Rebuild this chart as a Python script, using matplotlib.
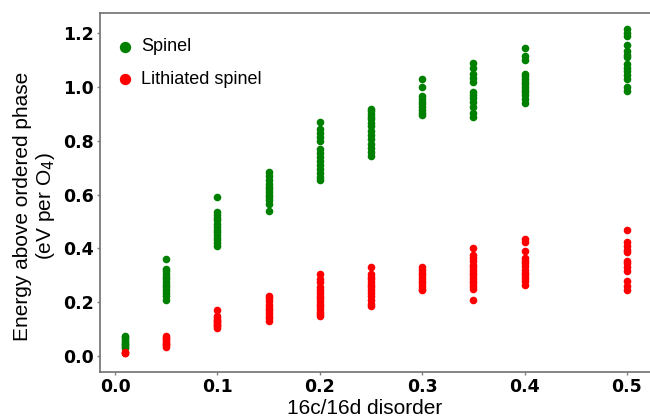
'''
Energy above ordered phase vs 16c/16d disorder
'''

#%%
import numpy as np
import matplotlib.pyplot as plt

disorder = [0.01, 0.05, 0.1, 0.15, 0.2, 0.25, 0.3, 0.35, 0.4, 0.5]

# energies above ordered phase (eV per O4), one list per disorder level
spinel = [
    [0.075, 0.07, 0.062, 0.055, 0.05, 0.045, 0.04, 0.035, 0.03],
    [0.36, 0.325, 0.315, 0.305, 0.295, 0.285, 0.275, 0.265, 0.255, 0.245, 0.235, 0.225, 0.21],
    [0.59, 0.535, 0.525, 0.515, 0.505, 0.49, 0.48, 0.47, 0.46, 0.45, 0.44, 0.43, 0.42, 0.41],
    [0.685, 0.67, 0.655, 0.64, 0.63, 0.62, 0.61, 0.6, 0.59, 0.58, 0.565, 0.54],
    [0.87, 0.845, 0.83, 0.815, 0.8, 0.77, 0.755, 0.74, 0.725, 0.71, 0.695, 0.68, 0.665, 0.655],
    [0.92, 0.91, 0.9, 0.89, 0.88, 0.865, 0.855, 0.835, 0.82, 0.805, 0.79, 0.775, 0.76, 0.745],
    [1.03, 1.0, 0.965, 0.955, 0.945, 0.935, 0.925, 0.915, 0.905, 0.895],
    [1.09, 1.07, 1.05, 1.035, 1.02, 0.98, 0.97, 0.96, 0.945, 0.925, 0.905, 0.89],
    [1.145, 1.115, 1.1, 1.05, 1.04, 1.03, 1.02, 1.01, 1.0, 0.99, 0.98, 0.97, 0.955, 0.94],
    [1.215, 1.2, 1.19, 1.155, 1.135, 1.12, 1.11, 1.085, 1.07, 1.06, 1.045, 1.03, 1.0, 0.985],
]

lithiated = [
    [0.01, 0.015, 0.012],
    [0.075, 0.068, 0.062, 0.055, 0.05, 0.045, 0.04, 0.035],
    [0.17, 0.15, 0.14, 0.135, 0.13, 0.125, 0.12, 0.115, 0.11, 0.105],
    [0.225, 0.215, 0.205, 0.19, 0.18, 0.17, 0.16, 0.15, 0.14, 0.13],
    [0.305, 0.285, 0.275, 0.255, 0.245, 0.235, 0.225, 0.215, 0.205, 0.195, 0.185, 0.175, 0.165, 0.155, 0.148],
    [0.33, 0.305, 0.295, 0.285, 0.275, 0.265, 0.255, 0.245, 0.235, 0.225, 0.21, 0.195, 0.185],
    [0.33, 0.32, 0.31, 0.3, 0.29, 0.28, 0.27, 0.26, 0.25, 0.245],
    [0.4, 0.375, 0.365, 0.355, 0.34, 0.33, 0.32, 0.31, 0.3, 0.29, 0.28, 0.27, 0.26, 0.25, 0.21],
    [0.435, 0.425, 0.39, 0.365, 0.355, 0.345, 0.335, 0.32, 0.31, 0.3, 0.29, 0.28, 0.265],
    [0.47, 0.425, 0.41, 0.395, 0.385, 0.355, 0.345, 0.33, 0.315, 0.28, 0.26, 0.245],
]

xs = np.concatenate([[d]*len(e) for d, e in zip(disorder, spinel)])
ys = np.concatenate(spinel)
xl = np.concatenate([[d]*len(e) for d, e in zip(disorder, lithiated)])
yl = np.concatenate(lithiated)

#%%
fig = plt.figure(figsize=(6.5, 4.18), dpi=100)
ax = fig.add_axes([0.1538, 0.1108, 0.8462, 0.8581])

ax.scatter(xs, ys, s=20, color='green', label='Spinel')
ax.scatter(xl, yl, s=20, color='red', label='Lithiated spinel')

ax.set_xlim(-0.0147, 0.5225)
ax.set_ylim(-0.058, 1.275)
ax.set_xticks([0.0, 0.1, 0.2, 0.3, 0.4, 0.5])
ax.set_yticks([0.0, 0.2, 0.4, 0.6, 0.8, 1.0, 1.2])
ax.set_xticklabels(['0.0', '0.1', '0.2', '0.3', '0.4', '0.5'])
ax.set_yticklabels(['0.0', '0.2', '0.4', '0.6', '0.8', '1.0', '1.2'])
for lab in ax.get_xticklabels() + ax.get_yticklabels():
    lab.set_fontweight('bold')
    lab.set_fontsize(12.5)
ax.tick_params(color='grey', length=2.5, width=1, pad=2)

for sp in ax.spines.values():
    sp.set_color('#707070')
    sp.set_linewidth(1.2)
ax.spines['right'].set_visible(False)

ax.set_xlabel('16c/16d disorder', family='Liberation Sans', fontsize=15)
ax.set_ylabel('Energy above ordered phase\n(eV per O$_4$)', family='Liberation Sans',
              fontsize=15, linespacing=1.1)
ax.xaxis.set_label_coords(0.482, -0.075)
ax.yaxis.set_label_coords(-0.078, 0.462)

ax.legend(loc='upper left', frameon=False, markerscale=1.6, handlelength=1.4,
          handletextpad=0.2, labelspacing=0.85,
          prop={'family': 'Liberation Sans', 'size': 13},
          bbox_to_anchor=(-0.007, 0.9745))

fig.savefig('out.png', dpi=100)
